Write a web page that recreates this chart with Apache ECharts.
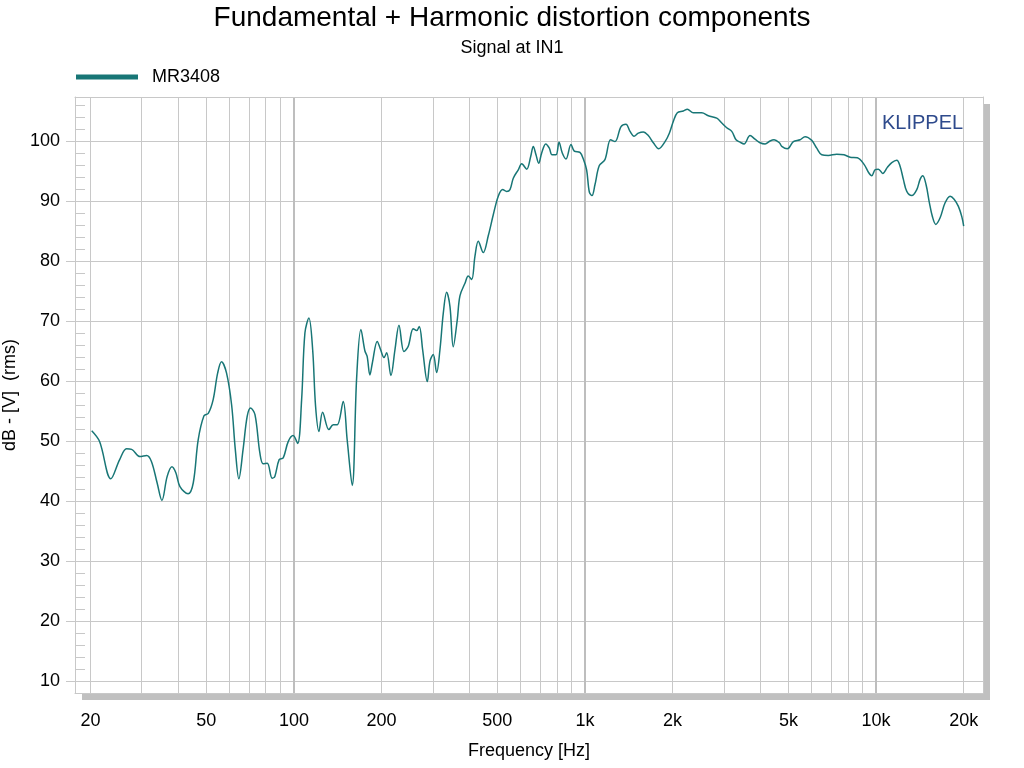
<!DOCTYPE html>
<html>
<head>
<meta charset="utf-8">
<title>Fundamental + Harmonic distortion components</title>
<script src="https://cdn.jsdelivr.net/npm/echarts@6/dist/echarts.min.js"></script>
<style>
  html, body { margin: 0; padding: 0; background: #fff; }
  #chart { width: 1024px; height: 768px; }
</style>
</head>
<body>
<div id="chart"></div>
<script>
// curve: frequency in Hz, level in dB
const freqHz = [
  20.2, 21.5, 23.5, 25.2, 26.6, 27.7, 29.6, 31.2, 32.4, 33.9,
  35.2, 36.7, 38.1, 39.3, 40.6, 43.3, 45.1, 46.9, 49.1, 50.8,
  52.8, 54.7, 56.4, 58.7, 61.1, 62.9, 64.7, 66.9, 69.1, 71.0,
  73.5, 76.4, 78.4, 81.0, 84.2, 86.0, 89.0, 91.9, 95.6, 99.4,
  103, 106.3, 109.1, 112.6, 116, 118.7, 121.9, 125.5, 131.9, 136.5,
  140.9, 147.7, 152.4, 158.6, 164.3, 169.9, 175.4, 178.5, 182.4, 186,
  193.3, 198.6, 203.9, 208.3, 215.4, 222.4, 229.6, 238.8, 247.1, 257,
  264, 269.6, 276.9, 287.2, 293.4, 301.1, 309.3, 317.5, 326, 334.8,
  343.7, 352.7, 364.1, 371.9, 387, 397.2, 408.1, 418.8, 429.9, 447.3,
  465.3, 484.1, 503.6, 521.5, 538.2, 552.5, 567.1, 590, 606.1, 630.6,
  650.8, 664.3, 678.7, 693.3, 710, 733, 754.2, 770.5, 795.3, 814.5,
  835.6, 860.5, 895.3, 918.9, 961, 987, 1013, 1035, 1057, 1082,
  1120, 1171, 1225, 1268, 1330, 1383, 1428, 1474, 1525, 1586,
  1650, 1717, 1792, 1884, 1949, 2012, 2076, 2177, 2247, 2356,
  2518, 2653, 2836, 2951, 3069, 3193, 3303, 3409, 3519, 3690,
  3838, 3993, 4156, 4323, 4463, 4654, 4743, 4957, 5198, 5482,
  5702, 6012, 6255, 6508, 6856, 7325, 7762, 8142, 8624, 9094,
  9438, 9665, 9921, 10183, 10544, 10934, 11324, 11779, 12091, 12411,
  12749, 13264, 13800, 14165, 14472, 14853, 15248, 15613, 16040, 16595,
  17264, 17962, 18537, 19178, 19702, 20000
];
const levelDb = [
  51.7, 49.9, 43.7, 46.9, 48.7, 48.6, 47.4, 47.6, 46.6, 43.0,
  40.1, 44.1, 45.7, 44.7, 42.4, 41.2, 43.0, 50.2, 54.2, 54.6,
  56.9, 61.3, 63.2, 61.3, 56.0, 48.6, 43.7, 48.6, 54.1, 55.5,
  54.4, 48.0, 46.2, 46.3, 43.8, 44.1, 46.9, 47.2, 49.9, 50.9,
  49.6, 56.9, 68.0, 70.5, 65.2, 55.8, 51.6, 54.8, 51.9, 52.7,
  52.7, 56.6, 50.2, 42.6, 60.6, 68.6, 65.0, 64.1, 61.0, 63.0,
  66.6, 65.2, 63.9, 64.7, 60.9, 65.2, 69.3, 64.9, 65.8, 68.7,
  68.4, 69.1, 65.2, 59.9, 63.3, 64.4, 61.4, 65.2, 71.3, 74.8,
  72.4, 65.7, 70.2, 74.2, 76.3, 77.5, 76.9, 80.8, 83.3, 81.4,
  84.2, 87.7, 90.8, 91.9, 91.6, 91.9, 93.8, 95.2, 96.2, 95.3,
  97.4, 99.1, 97.7, 96.3, 98.0, 99.5, 98.8, 97.7, 97.7, 99.8,
  98.0, 97.0, 99.4, 98.3, 98.1, 97.0, 95.2, 91.5, 90.9, 92.7,
  95.9, 96.9, 100.2, 99.9, 102.4, 102.8, 101.6, 100.8, 101.3, 101.5,
  100.9, 99.7, 98.7, 99.9, 101.3, 103.3, 104.7, 105.0, 105.3, 104.7,
  104.7, 104.2, 103.8, 103.0, 102.2, 101.6, 100.2, 99.8, 99.5, 100.9,
  100.3, 99.7, 99.5, 100.0, 100.2, 99.7, 99.1, 98.7, 99.9, 100.2,
  100.7, 100.1, 98.8, 97.7, 97.6, 97.8, 97.7, 97.3, 97.2, 96.1,
  94.7, 94.2, 95.2, 95.3, 94.6, 95.6, 96.4, 96.8, 95.8, 93.6,
  91.6, 90.9, 91.9, 93.6, 94.2, 92.7, 89.7, 87.4, 86.1, 87.2,
  89.7, 90.8, 90.3, 89.1, 87.4, 85.8
];

// axes
const freqMin = 17.7;
const freqMax = 23300;
const dbMin = 8;
const dbMax = 107.33;
const freqLabels = [20, 50, 100, 200, 500, 1000, 2000, 5000, 10000, 20000];
const freqGrid = [
  20, 30, 40, 50, 60, 70, 80, 90,
  200, 300, 400, 500, 600, 700, 800, 900,
  2000, 3000, 4000, 5000, 6000, 7000, 8000, 9000, 20000
];
const freqDecades = [100, 1000, 10000];
const dbTicks = [10, 20, 30, 40, 50, 60, 70, 80, 90, 100];

const lg = Math.log10;
const font = '"Liberation Sans", Arial, sans-serif';
const gridColor = '#c8c8c8';
const lineColor = '#187676';

// minor dB ticks every 2 between the labelled ones
const dbMinor = [];
dbTicks.forEach(d => { [2, 4, 6, 8].forEach(s => { if (d + s < dbMax) dbMinor.push(d + s); }); });

function freqText(v) {
  const f = Math.round(Math.pow(10, v));
  return f >= 1000 ? (f / 1000) + 'k' : String(f);
}

const frameLine = { show: true, onZero: false, lineStyle: { color: gridColor, width: 1 } };

const chart = echarts.init(document.getElementById('chart'));

chart.setOption({
  animation: false,
  backgroundColor: '#fff',
  textStyle: { fontFamily: font },
  title: [
    {
      text: 'Fundamental + Harmonic distortion components',
      left: 'center', top: 4, padding: 0,
      textStyle: { fontSize: 28, fontWeight: 'normal', color: '#000', fontFamily: font }
    },
    {
      text: 'Signal at IN1',
      left: 'center', top: 39, padding: 0,
      textStyle: { fontSize: 18, fontWeight: 'normal', color: '#000', fontFamily: font }
    },
    {
      text: 'KLIPPEL',
      left: 882, top: 113, padding: 0,
      textStyle: { fontSize: 20, fontWeight: 'normal', color: '#2e4a8c', fontFamily: font }
    }
  ],
  legend: {
    left: 76, top: 68, padding: 0,
    icon: 'rect', itemWidth: 62, itemHeight: 5,
    textStyle: { fontSize: 18, color: '#000', fontFamily: font, padding: [0, 0, 0, 9] },
    data: ['MR3408']
  },
  // white plot area with a flat grey drop shadow; the frame comes from the axis lines
  grid: {
    left: 75, right: 41, top: 97, bottom: 75,
    containLabel: false, outerBoundsMode: 'none',
    show: true, backgroundColor: '#fff', borderWidth: 0,
    shadowColor: '#c0c0c0', shadowOffsetX: 7, shadowOffsetY: 7, shadowBlur: 0
  },
  xAxis: [
    {
      type: 'value', position: 'bottom', min: lg(freqMin), max: lg(freqMax),
      axisLine: frameLine,
      axisTick: { show: false, customValues: freqGrid.map(lg) },
      splitLine: { show: true, lineStyle: { color: gridColor, width: 1 } },
      axisLabel: {
        customValues: freqLabels.map(lg), formatter: freqText,
        fontSize: 18, color: '#000', margin: 19, fontFamily: font
      },
      name: 'Frequency [Hz]', nameLocation: 'middle', nameGap: 49,
      nameTextStyle: { fontSize: 18, color: '#000', fontFamily: font }
    },
    {
      type: 'value', position: 'top', min: lg(freqMin), max: lg(freqMax),
      axisLine: frameLine,
      axisTick: { show: false, customValues: freqDecades.map(lg) },
      axisLabel: { show: false },
      splitLine: { show: true, lineStyle: { color: '#bebebe', width: 2 } }
    }
  ],
  yAxis: [
    {
      type: 'value', position: 'left', min: dbMin, max: dbMax,
      axisLine: frameLine,
      axisTick: { show: true, customValues: dbTicks, length: 9, lineStyle: { color: gridColor } },
      axisLabel: { customValues: dbTicks, fontSize: 18, color: '#000', margin: 15, fontFamily: font },
      splitLine: { show: true, lineStyle: { color: gridColor, width: 1 } },
      name: 'dB - [V]  (rms)', nameLocation: 'middle', nameGap: 54,
      nameTextStyle: { fontSize: 18, color: '#000', fontFamily: font }
    },
    {
      type: 'value', position: 'left', offset: 0, min: dbMin, max: dbMax,
      axisLine: { show: false },
      axisLabel: { show: false },
      splitLine: { show: false },
      axisTick: { show: true, inside: true, length: 10, customValues: dbMinor, lineStyle: { color: gridColor } }
    },
    {
      type: 'value', position: 'right', offset: 0, min: dbMin, max: dbMax,
      axisLine: frameLine,
      axisLabel: { show: false },
      axisTick: { show: false },
      splitLine: { show: false }
    }
  ],
  series: [
    {
      name: 'MR3408',
      type: 'line',
      data: freqHz.map((f, i) => [lg(f), levelDb[i]]),
      showSymbol: false,
      smooth: 0.35,
      lineStyle: { color: lineColor, width: 1.5 },
      itemStyle: { color: lineColor },
      z: 5
    }
  ]
});
</script>
</body>
</html>
